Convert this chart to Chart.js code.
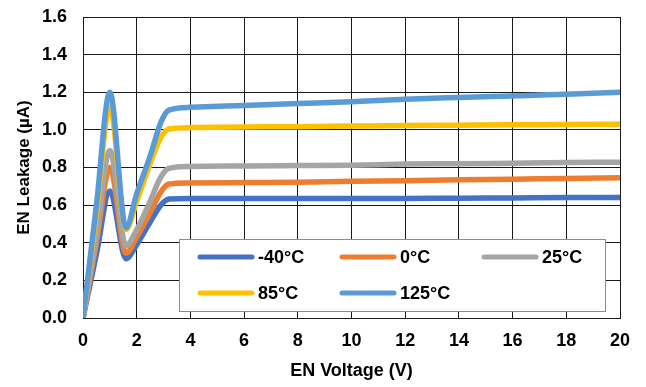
<!DOCTYPE html>
<html>
<head>
<meta charset="utf-8">
<script src="https://cdn.jsdelivr.net/npm/chart.js@4/dist/chart.umd.min.js"></script>
<style>
  html, body { margin: 0; padding: 0; background: #fff; }
  #wrap { width: 646px; height: 387px; position: relative; }
</style>
</head>
<body>
<div id="wrap"><canvas id="c" width="646" height="387"></canvas></div>
<script>
// ---- Data ----
const enVoltage = [0, 0.5, 1.0, 1.6, 2.0, 2.5, 2.9, 3.2, 4, 6, 8, 10, 12, 14, 16, 18, 20];
const seriesLabels = ['-40°C', '0°C', '25°C', '85°C', '125°C'];
const leakM40  = [0, 0.34, 0.675, 0.315, 0.39, 0.51, 0.60, 0.632, 0.635, 0.635, 0.635, 0.635, 0.635, 0.637, 0.638, 0.64, 0.64];
const leak0    = [0, 0.40, 0.80, 0.345, 0.43, 0.56, 0.67, 0.712, 0.718, 0.72, 0.722, 0.727, 0.73, 0.735, 0.738, 0.742, 0.745];
const leak25   = [0, 0.44, 0.89, 0.385, 0.47, 0.62, 0.75, 0.795, 0.805, 0.808, 0.81, 0.812, 0.818, 0.82, 0.823, 0.826, 0.828];
const leak85   = [0, 0.56, 1.12, 0.47, 0.62, 0.82, 0.96, 1.005, 1.012, 1.015, 1.017, 1.02, 1.023, 1.025, 1.027, 1.028, 1.03];
const leak125  = [0, 0.60, 1.20, 0.48, 0.66, 0.86, 1.04, 1.105, 1.12, 1.13, 1.14, 1.15, 1.163, 1.172, 1.18, 1.19, 1.20];
const xTicks = [0, 2, 4, 6, 8, 10, 12, 14, 16, 18, 20];
const yTicks = [0.0, 0.2, 0.4, 0.6, 0.8, 1.0, 1.2, 1.4, 1.6];

const seriesValues = [leakM40, leak0, leak25, leak85, leak125];
const seriesColors = ['#4472C4', '#ED7D31', '#A5A5A5', '#FFC000', '#5B9BD5'];

const FONT = '"Liberation Sans", Arial, sans-serif';

const datasets = seriesValues.map((vals, i) => ({
  label: seriesLabels[i],
  data: vals.map((v, k) => ({ x: enVoltage[k], y: v })),
  borderColor: seriesColors[i],
  backgroundColor: seriesColors[i],
  borderWidth: 5.5,
  pointRadius: 0,
  cubicInterpolationMode: 'monotone',
  borderCapStyle: 'round',
  borderJoinStyle: 'round',
  fill: false,
  order: seriesValues.length - i
}));

const insideLegend = {
  id: 'insideLegend',
  afterDraw(chart) {
    const ctx = chart.ctx;
    const bx = 179, by = 239, bw = 426, bh = 72;
    ctx.save();
    ctx.fillStyle = '#ffffff';
    ctx.fillRect(bx, by, bw, bh);
    ctx.strokeStyle = '#8c8c8c';
    ctx.lineWidth = 1;
    ctx.strokeRect(bx + 0.5, by + 0.5, bw, bh);
    const colX = [198, 340, 482];
    const rowY = [257, 293];
    ctx.font = 'bold 18px ' + FONT;
    ctx.textBaseline = 'middle';
    ctx.textAlign = 'left';
    chart.data.datasets.forEach((ds, i) => {
      const cx = colX[i % 3];
      const cy = rowY[Math.floor(i / 3)];
      ctx.strokeStyle = ds.borderColor;
      ctx.lineWidth = 5;
      ctx.lineCap = 'round';
      ctx.beginPath();
      ctx.moveTo(cx + 2, cy);
      ctx.lineTo(cx + 54, cy);
      ctx.stroke();
      ctx.fillStyle = '#000';
      ctx.fillText(ds.label, cx + 60, cy + 1);
    });
    ctx.restore();
  }
};

new Chart(document.getElementById('c'), {
  type: 'line',
  data: { datasets },
  plugins: [insideLegend],
  options: {
    responsive: false,
    animation: false,
    layout: { padding: { top: 17, right: 26, left: 0, bottom: 0 } },
    plugins: { legend: { display: false }, tooltip: { enabled: false } },
    scales: {
      x: {
        type: 'linear',
        min: 0, max: 20,
        afterBuildTicks(scale) { scale.ticks = xTicks.map(v => ({ value: v })); },
        afterFit(scale) { scale.height = 69; scale.paddingLeft = 0; scale.paddingRight = 0; },
        grid: { color: '#1a1a1a', lineWidth: 1, drawTicks: false },
        border: { color: '#1a1a1a', width: 1 },
        ticks: {
          color: '#000', padding: 12, maxRotation: 0,
          font: { family: FONT, size: 18, weight: 'bold' },
          callback: v => String(v)
        },
        title: {
          display: true, text: 'EN Voltage (V)', color: '#000',
          font: { family: FONT, size: 18, weight: 'bold' },
          padding: { top: 0, bottom: 5 }
        }
      },
      y: {
        type: 'linear',
        min: 0, max: 1.6,
        afterBuildTicks(scale) { scale.ticks = yTicks.map(v => ({ value: v })); },
        afterFit(scale) { scale.width = 83; scale.paddingTop = 0; scale.paddingBottom = 0; },
        grid: { color: '#1a1a1a', lineWidth: 1, drawTicks: false },
        border: { color: '#1a1a1a', width: 1 },
        ticks: {
          color: '#000', padding: 16,
          font: { family: FONT, size: 18, weight: 'bold' },
          callback: v => Number(v).toFixed(1)
        },
        title: {
          display: true, text: 'EN Leakage (µA)', color: '#000',
          font: { family: FONT, size: 17, weight: 'bold' },
          padding: { top: 14, bottom: 0 }
        }
      }
    }
  }
});
</script>
</body>
</html>
